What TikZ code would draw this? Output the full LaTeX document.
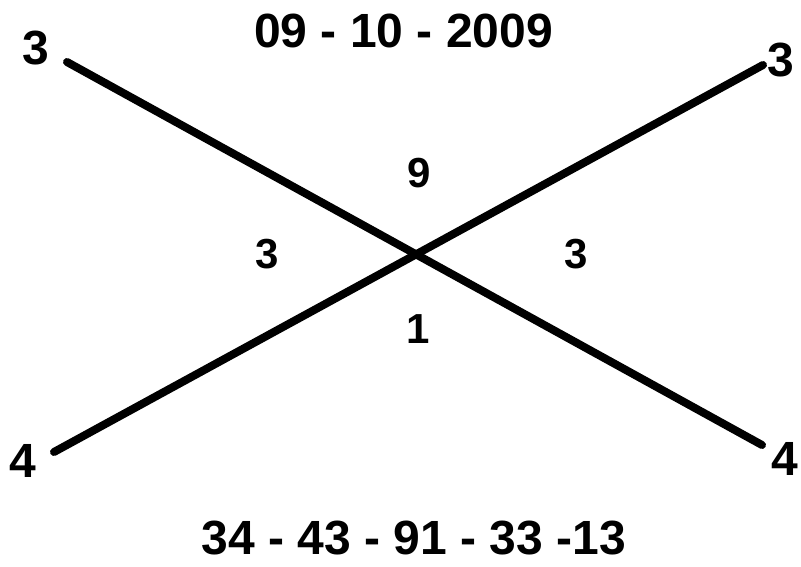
\documentclass[tikz,border=0pt]{standalone}
\usepackage{fontspec}
\setmainfont{Liberation Sans}
\begin{document}
\begin{tikzpicture}[
  x=1pt, y=-1pt,
  num/.style={font=\bfseries\fontsize{48}{48}\selectfont, inner sep=0pt, anchor=base},
  mid/.style={num, font=\bfseries\fontsize{42}{42}\selectfont},
  cross/.style={draw, line width=8pt, line cap=round}
]
\useasboundingbox (0,0) rectangle (801,567);
% date and result
\node[num] (date) at (403.5,48) {09 - 10 - 2009};
\node[num] (result) at (414,554) {34 - 43 - 91 - 33 -13};
% corner digits
\node[num] (tl) at (36,65) {3};
\node[num] (tr) at (781,77) {3};
\node[num] (bl) at (23,477) {4};
\node[num] (br) at (785,475) {4};
% line ends
\coordinate (tlend) at (67,62);
\coordinate (trend) at (763,65);
\coordinate (blend) at (54,452);
\coordinate (brend) at (762,445);
\draw[cross] (tlend) -- (brend);
\draw[cross] (blend) -- (trend);
% digits round the crossing
\node[mid] (up) at (419,187) {9};
\node[mid] (left) at (267,268) {3};
\node[mid] (right) at (576,268) {3};
\node[mid] (down) at (418,343) {1};
\end{tikzpicture}
\end{document}
